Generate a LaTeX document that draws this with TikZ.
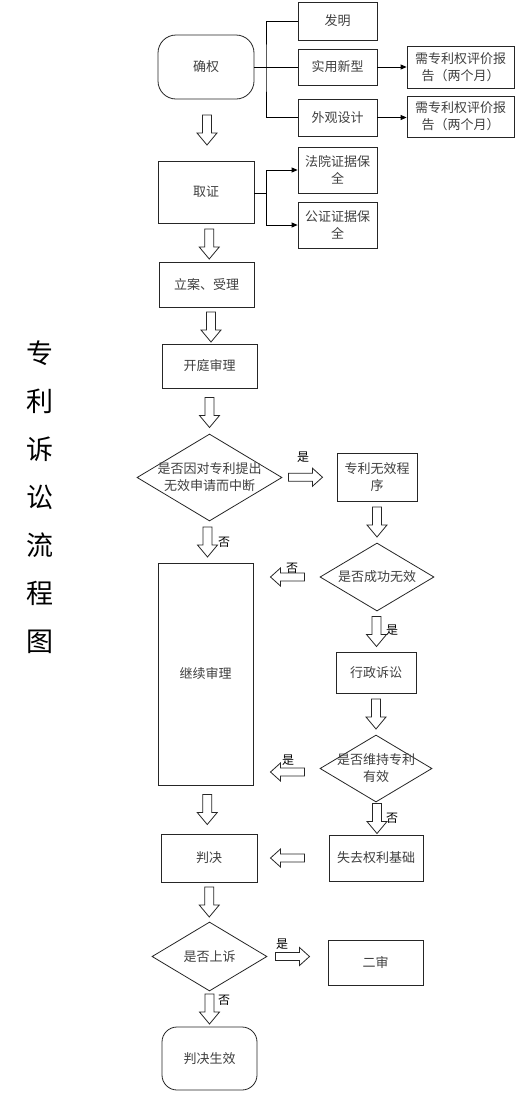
\documentclass[tikz,border=0pt]{standalone}
\usepackage{fontspec}
\setmainfont{Noto Sans CJK SC}
\usetikzlibrary{shapes.geometric,arrows.meta,calc}
\tikzset{
  box/.style={draw=black!85,line width=0.8pt,inner sep=0pt,align=center,text=black!75,font=\fontsize{13}{17}\selectfont},
  rbox/.style={box,rounded corners=18pt},
  dia/.style={draw=black!85,line width=0.8pt,diamond,inner sep=0pt},
  diatext/.style={align=center,text=black!75,font=\fontsize{13}{17}\selectfont,inner sep=0pt},
  lab/.style={font=\fontsize{12}{14}\selectfont,inner sep=0pt,text=black},
  hol/.style={draw=black!85,line width=0.8pt,fill=white,line join=miter},
  conn/.style={draw=black,line width=0.8pt},
  tip/.style={conn,-{Triangle[length=6pt,width=5pt]}},
  darr/.pic={\path[hol] (-4.5,-15) -- (-4.5,3) -- (-10,3) -- (0,15) -- (10,3) -- (4.5,3) -- (4.5,-15) -- cycle;},
  rarr/.pic={\path[hol] (-17,-4) -- (7,-4) -- (7,-9) -- (17,0) -- (7,9) -- (7,4) -- (-17,4) -- cycle;},
  larr/.pic={\path[hol] (17,-4) -- (-7,-4) -- (-7,-9) -- (-17,0) -- (-7,9) -- (-7,4) -- (17,4) -- cycle;}
}
\begin{document}
\begin{tikzpicture}[x=1pt,y=-1pt]
\useasboundingbox[fill=white] (0,0) rectangle (517,1093);

% title
\node[font=\fontsize{27}{48}\selectfont,align=center,inner sep=0pt] (title) at (40,497) {专\\利\\诉\\讼\\流\\程\\图};

% top part
\node[rbox,minimum width=96pt,minimum height=64pt] (qq) at (206,67) {确权};
\node[box,minimum width=79pt,minimum height=38pt] (fm) at (337.5,21) {发明};
\node[box,minimum width=79pt,minimum height=36pt] (syxx) at (337.5,67) {实用新型};
\node[box,minimum width=79pt,minimum height=37pt] (wgsj) at (337.5,117.5) {外观设计};
\node[box,minimum width=107pt,minimum height=42pt] (bg1) at (460.5,67) {需专利权评价报\\告（两个月）};
\node[box,minimum width=107pt,minimum height=41pt] (bg2) at (460.5,116.5) {需专利权评价报\\告（两个月）};

\coordinate (j1) at (266,67);
\draw[conn] (qq.east) -- (syxx.west);
\draw[conn] (fm.west) -| (j1) |- (wgsj.west);
\draw[tip] (syxx.east) -- (bg1.west);
\draw[tip] (wgsj.east) -- (wgsj.east -| bg2.west);

\node[box,minimum width=96pt,minimum height=62pt] (qz) at (206,192) {取证};
\node[box,minimum width=79pt,minimum height=46pt] (fy) at (337.5,170) {法院证据保\\全};
\node[box,minimum width=79pt,minimum height=46pt] (gz) at (337.5,225) {公证证据保\\全};
\coordinate (j2) at (266,193);
\draw[conn] (qz.east |- j2) -- (j2);
\draw[tip] (j2) |- (fy.west);
\draw[tip] (j2) |- (gz.west);

\node[box,minimum width=95pt,minimum height=45pt] (la) at (206.5,284.5) {立案、受理};
\node[box,minimum width=95pt,minimum height=44pt] (kt) at (209.5,366) {开庭审理};

\node[dia,minimum width=145pt,minimum height=87pt] (d1) at (209.5,477.5) {};
\node[diatext] (d1t) at (d1) {是否因对专利提出\\无效申请而中断};
\node[box,minimum width=80pt,minimum height=48pt] (wx) at (377,477) {专利无效程\\序};

\node[dia,minimum width=114pt,minimum height=68pt] (d2) at (377,577) {};
\node[diatext] (d2t) at (d2) {是否成功无效};
\node[box,minimum width=95pt,minimum height=222pt] (jx) at (205.5,674) {继续审理};
\node[box,minimum width=80pt,minimum height=41pt] (xz) at (376,672.5) {行政诉讼};
\node[dia,minimum width=112pt,minimum height=67pt] (d3) at (376,768.5) {};
\node[diatext] (d3t) at (d3) {是否维持专利\\有效};

\node[box,minimum width=96pt,minimum height=48pt] (pj) at (209,858) {判决};
\node[box,minimum width=94pt,minimum height=46pt] (sq) at (376,858) {失去权利基础};
\node[dia,minimum width=115pt,minimum height=69pt] (d4) at (209.5,956.5) {};
\node[diatext] (d4t) at (d4) {是否上诉};
\node[box,minimum width=95pt,minimum height=45pt] (es) at (375.5,962.5) {二审};
\node[rbox,minimum width=95pt,minimum height=63pt,rounded corners=15pt] (sx) at (209.5,1058.5) {判决生效};

% hollow arrows
\pic at ($(qq.south)!0.5!(qz.north)+(1,0)$) {darr};
\pic at ($(qz.south)!0.5!(la.north)+(3,1.5)$) {darr};
\pic at ($(la.south)!0.5!(kt.north)+(3,1.5)$) {darr};
\pic at ($(kt.south)!0.5!(d1.north)+(0,1.5)$) {darr};
\pic at ($(d1.south)!0.5!(jx.north)$) {darr};
\pic at ($(wx.south)!0.5!(d2.north)$) {darr};
\pic at ($(d2.south)!0.5!(xz.north)$) {darr};
\pic at ($(xz.south)!0.5!(d3.north)$) {darr};
\pic at ($(jx.south)!0.5!(pj.north)$) {darr};
\pic at ($(d3.south)!0.5!(sq.north)+(1,0)$) {darr};
\pic at ($(pj.south)!0.5!(d4.north)$) {darr};
\pic at ($(d4.south)!0.5!(sx.north)$) {darr};

\pic at ($(d1.east)!0.5!(wx.west)+(-4,0)$) {rarr};
\pic at ($(d4.east)!0.5!(d4.east -| es.west)+(-5,0)$) {rarr};
\pic at ($(jx.east |- d2)!0.5!(d2.west)+(1,0)$) {larr};
\pic at ($(jx.east |- d3)!0.5!(d3.west)+(1,3.5)$) {larr};
\pic at ($(pj.east |- sq)!0.5!(sq.west)+(-5.5,0)$) {larr};

% labels
\node[lab] (l1) at (303,457) {是};
\node[lab] (l2) at (224,542) {否};
\node[lab] (l3) at (292,568) {否};
\node[lab] (l4) at (392,630) {是};
\node[lab] (l5) at (288,760) {是};
\node[lab] (l6) at (392,818) {否};
\node[lab] (l7) at (282,944) {是};
\node[lab] (l8) at (224,1000) {否};
\end{tikzpicture}
\end{document}
